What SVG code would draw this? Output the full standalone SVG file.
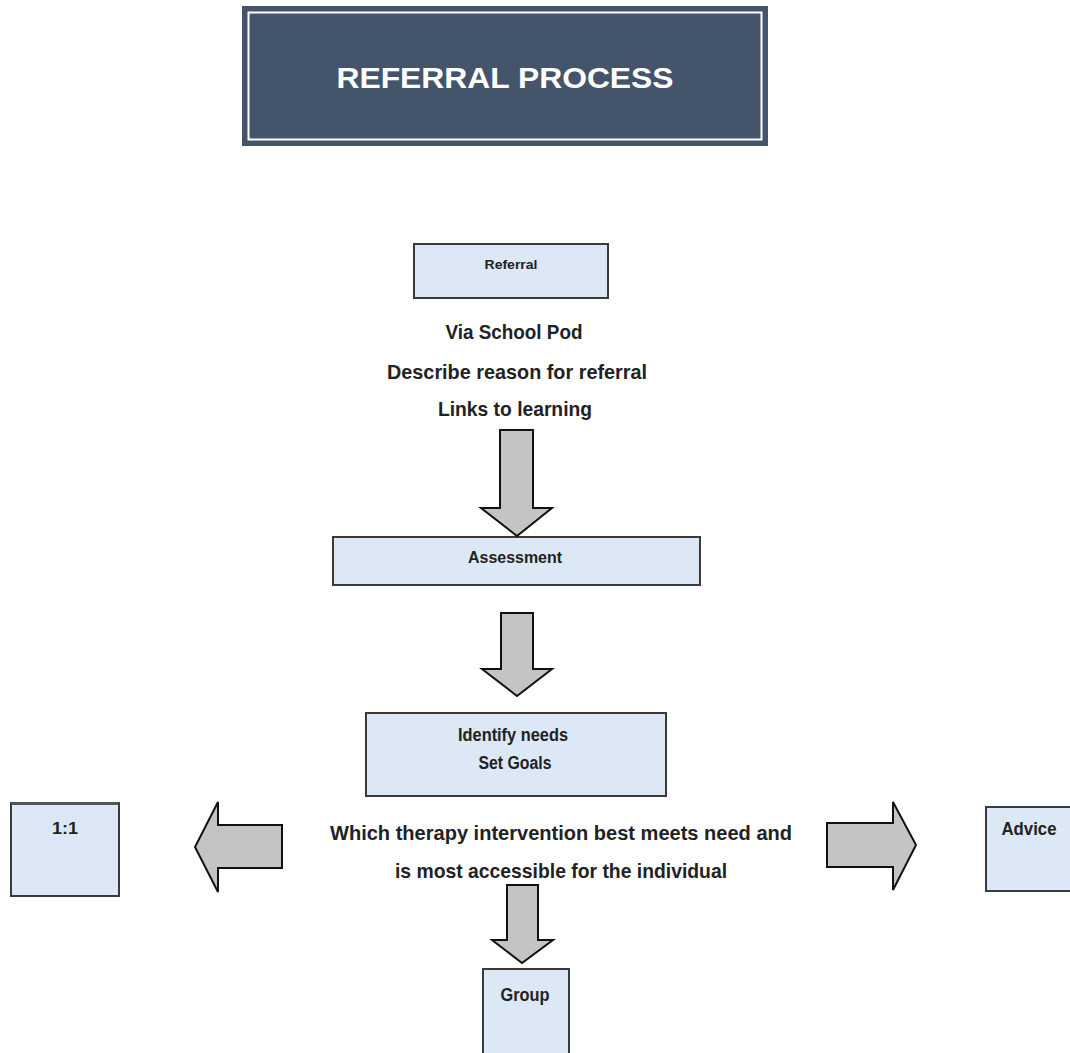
<svg xmlns="http://www.w3.org/2000/svg" width="1070" height="1053" viewBox="0 0 1070 1053">
<style>
.box{fill:#dce8f6;stroke:#3a3a3a;stroke-width:2}
.arr{fill:#c4c4c4;stroke:#111;stroke-width:2;stroke-linejoin:miter}
.t{font-family:"Liberation Sans",Arial,sans-serif;font-weight:bold;fill:#222;text-anchor:middle}
.title{font-family:"Liberation Sans",Arial,sans-serif;font-weight:bold;fill:#fff;text-anchor:middle;font-size:29px}
</style>
<rect width="1070" height="1053" fill="#fff"/>
<g id="title">
<rect x="242" y="6" width="526" height="140" fill="#44546a"/>
<rect x="248.5" y="12.5" width="513" height="127" fill="none" stroke="#fff" stroke-width="2"/>
<text class="title" x="505" y="88" textLength="337" lengthAdjust="spacingAndGlyphs">REFERRAL PROCESS</text>
</g>
<g id="referral">
<rect class="box" x="414" y="244" width="194" height="54"/>
<text class="t" x="511" y="269" font-size="13" textLength="53" lengthAdjust="spacingAndGlyphs">Referral</text>
</g>
<g id="referral-notes">
<text class="t" x="514" y="339" font-size="21" textLength="137" lengthAdjust="spacingAndGlyphs">Via School Pod</text>
<text class="t" x="517" y="379" font-size="21" textLength="260" lengthAdjust="spacingAndGlyphs">Describe  reason for referral</text>
<text class="t" x="515" y="416" font-size="21" textLength="154" lengthAdjust="spacingAndGlyphs">Links to learning</text>
</g>
<g id="assessment">
<rect class="box" x="333" y="537" width="367" height="48"/>
<text class="t" x="515" y="563" font-size="17" textLength="94" lengthAdjust="spacingAndGlyphs">Assessment</text>
</g>
<g id="identify">
<rect class="box" x="366" y="713" width="300" height="83"/>
<text class="t" x="513" y="741" font-size="18" textLength="110" lengthAdjust="spacingAndGlyphs">Identify needs</text>
<text class="t" x="515" y="769" font-size="18" textLength="73" lengthAdjust="spacingAndGlyphs">Set Goals</text>
</g>
<g id="question">
<text class="t" x="561" y="840" font-size="21" textLength="462" lengthAdjust="spacingAndGlyphs">Which therapy intervention best meets need  and</text>
<text class="t" x="561" y="878" font-size="21" textLength="332" lengthAdjust="spacingAndGlyphs">is most accessible for the individual</text>
</g>
<g id="one-to-one">
<rect class="box" x="11" y="803" width="108" height="93"/>
<line x1="11" y1="803.5" x2="119" y2="803.5" stroke="#555" stroke-width="3"/>
<text class="t" x="65" y="834" font-size="16" textLength="26" lengthAdjust="spacingAndGlyphs">1:1</text>
</g>
<g id="advice">
<rect class="box" x="986" y="807" width="90" height="84"/>
<text class="t" x="1029" y="835" font-size="18" textLength="55" lengthAdjust="spacingAndGlyphs">Advice</text>
</g>
<g id="group">
<rect class="box" x="483" y="969" width="86" height="90"/>
<text class="t" x="525" y="1001" font-size="18" textLength="49" lengthAdjust="spacingAndGlyphs">Group</text>
</g>
<g id="connectors">
<polygon class="arr" points="500,430 533,430 533,508 552,508 517,536 481,508 500,508"/>
<polygon class="arr" points="501,613 533,613 533,669 552,669 517,696 482,669 501,669"/>
<polygon class="arr" points="282,825 282,868 218,868 218,892 195,847 218,802 218,825"/>
<polygon class="arr" points="827,823 827,867 893,867 893,890 916,845 893,802 893,823"/>
<polygon class="arr" points="507,885 538,885 538,940 553,940 522,963 492,940 507,940"/>
</g>
</svg>
